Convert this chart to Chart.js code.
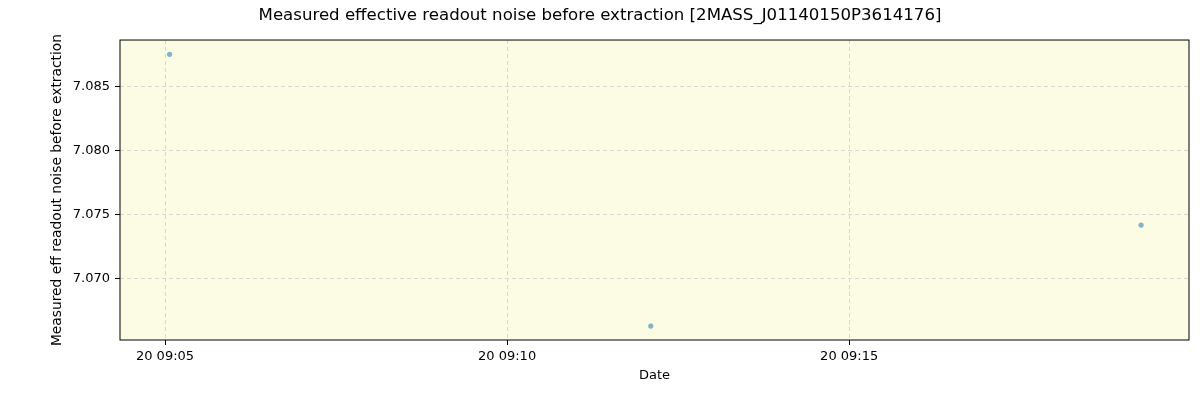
<!DOCTYPE html>
<html>
<head>
<meta charset="utf-8">
<script src="https://cdn.jsdelivr.net/npm/chart.js@4/dist/chart.umd.min.js"></script>
<style>
  html, body { margin: 0; padding: 0; background: #fff; }
  #wrap { width: 1200px; height: 400px; }
</style>
</head>
<body>
<div id="wrap"><canvas id="noiseChart" width="1200" height="400"></canvas></div>
<script>
// observation times (20th, hh:mm:ss) and measured noise
const obsTimes = ['09:05:04', '09:12:06', '09:19:16']
const noiseValues = [7.08755, 7.0663, 7.0742]
const yTicks = [7.070, 7.075, 7.080, 7.085]
const xTickMinutes = [5, 10, 15]
const xTickLabels = ['20 09:05', '20 09:10', '20 09:15']

// minutes after 09:00
function toMinutes(t) {
  const [h, m, s] = t.split(':').map(Number)
  return (h - 9) * 60 + m + s / 60
}

const points = obsTimes.map((t, i) => ({ x: toMinutes(t), y: noiseValues[i] }))

const plotBackground = {
  id: 'plotBackground',
  beforeDraw(chart) {
    const { ctx, chartArea } = chart
    ctx.save()
    ctx.fillStyle = '#fcfbe3'
    ctx.fillRect(chartArea.left, chartArea.top, chartArea.right - chartArea.left, chartArea.bottom - chartArea.top)
    ctx.restore()
  },
  afterDatasetsDraw(chart) {
    const { ctx, chartArea } = chart
    ctx.save()
    ctx.strokeStyle = '#000'
    ctx.lineWidth = 1
    ctx.strokeRect(chartArea.left, chartArea.top, chartArea.right - chartArea.left, chartArea.bottom - chartArea.top)
    ctx.restore()
  },
}

const font = { family: 'DejaVu Sans', size: 13 }
const labelFont = { family: 'DejaVu Sans', size: 13.8 }

new Chart(document.getElementById('noiseChart').getContext('2d'), {
  type: 'scatter',
  data: {
    datasets: [
      {
        label: 'noise',
        data: points,
        backgroundColor: 'rgba(31, 119, 180, 0.55)',
        borderColor: 'rgba(31, 119, 180, 0.55)',
        borderWidth: 0,
        pointRadius: 2.6,
      },
    ],
  },
  options: {
    responsive: false,
    animation: false,
    layout: { padding: 0 },
    scales: {
      x: {
        type: 'linear',
        min: 4.342,
        max: 19.967,
        afterFit: (scale) => { scale.height = 60 },
        afterBuildTicks: (scale) => { scale.ticks = xTickMinutes.map((v) => ({ value: v })) },
        ticks: {
          color: '#000',
          font,
          padding: 4,
          maxRotation: 0,
          callback: (v) => xTickLabels[xTickMinutes.indexOf(v)] || '',
        },
        grid: {
          color: '#d6d6d6',
          tickBorderDash: [],
          tickColor: '#000',
          tickLength: 5,
          tickWidth: 1,
        },
        border: { display: false, dash: [4, 3] },
        title: { display: true, text: 'Date', color: '#000', font, padding: { top: 4, bottom: 17 } },
      },
      y: {
        min: 7.06521,
        max: 7.08867,
        afterFit: (scale) => { scale.width = 120 },
        afterBuildTicks: (scale) => { scale.ticks = yTicks.map((v) => ({ value: v })) },
        ticks: {
          color: '#000',
          font,
          padding: 5,
          callback: (v) => v.toFixed(3),
        },
        grid: {
          color: '#d6d6d6',
          tickBorderDash: [],
          tickColor: '#000',
          tickLength: 5,
          tickWidth: 1,
        },
        border: { display: false, dash: [4, 3] },
        title: {
          display: true,
          text: 'Measured eff readout noise before extraction',
          color: '#000',
          font: labelFont,
          padding: { top: 48.7, bottom: 2 },
        },
      },
      // empty right margin so the title stays centred on the page
      spacer: {
        type: 'linear',
        position: 'right',
        afterFit: (scale) => { scale.width = 11 },
        ticks: { display: false },
        grid: { display: false },
        border: { display: false },
      },
    },
    plugins: {
      legend: { display: false },
      tooltip: { enabled: false },
      title: {
        display: true,
        text: 'Measured effective readout noise before extraction [2MASS_J01140150P3614176]',
        color: '#000',
        font: { family: 'DejaVu Sans', size: 16.6, weight: 'normal' },
        padding: { top: 6, bottom: 14.1 },
      },
    },
  },
  plugins: [plotBackground],
})
</script>
</body>
</html>
